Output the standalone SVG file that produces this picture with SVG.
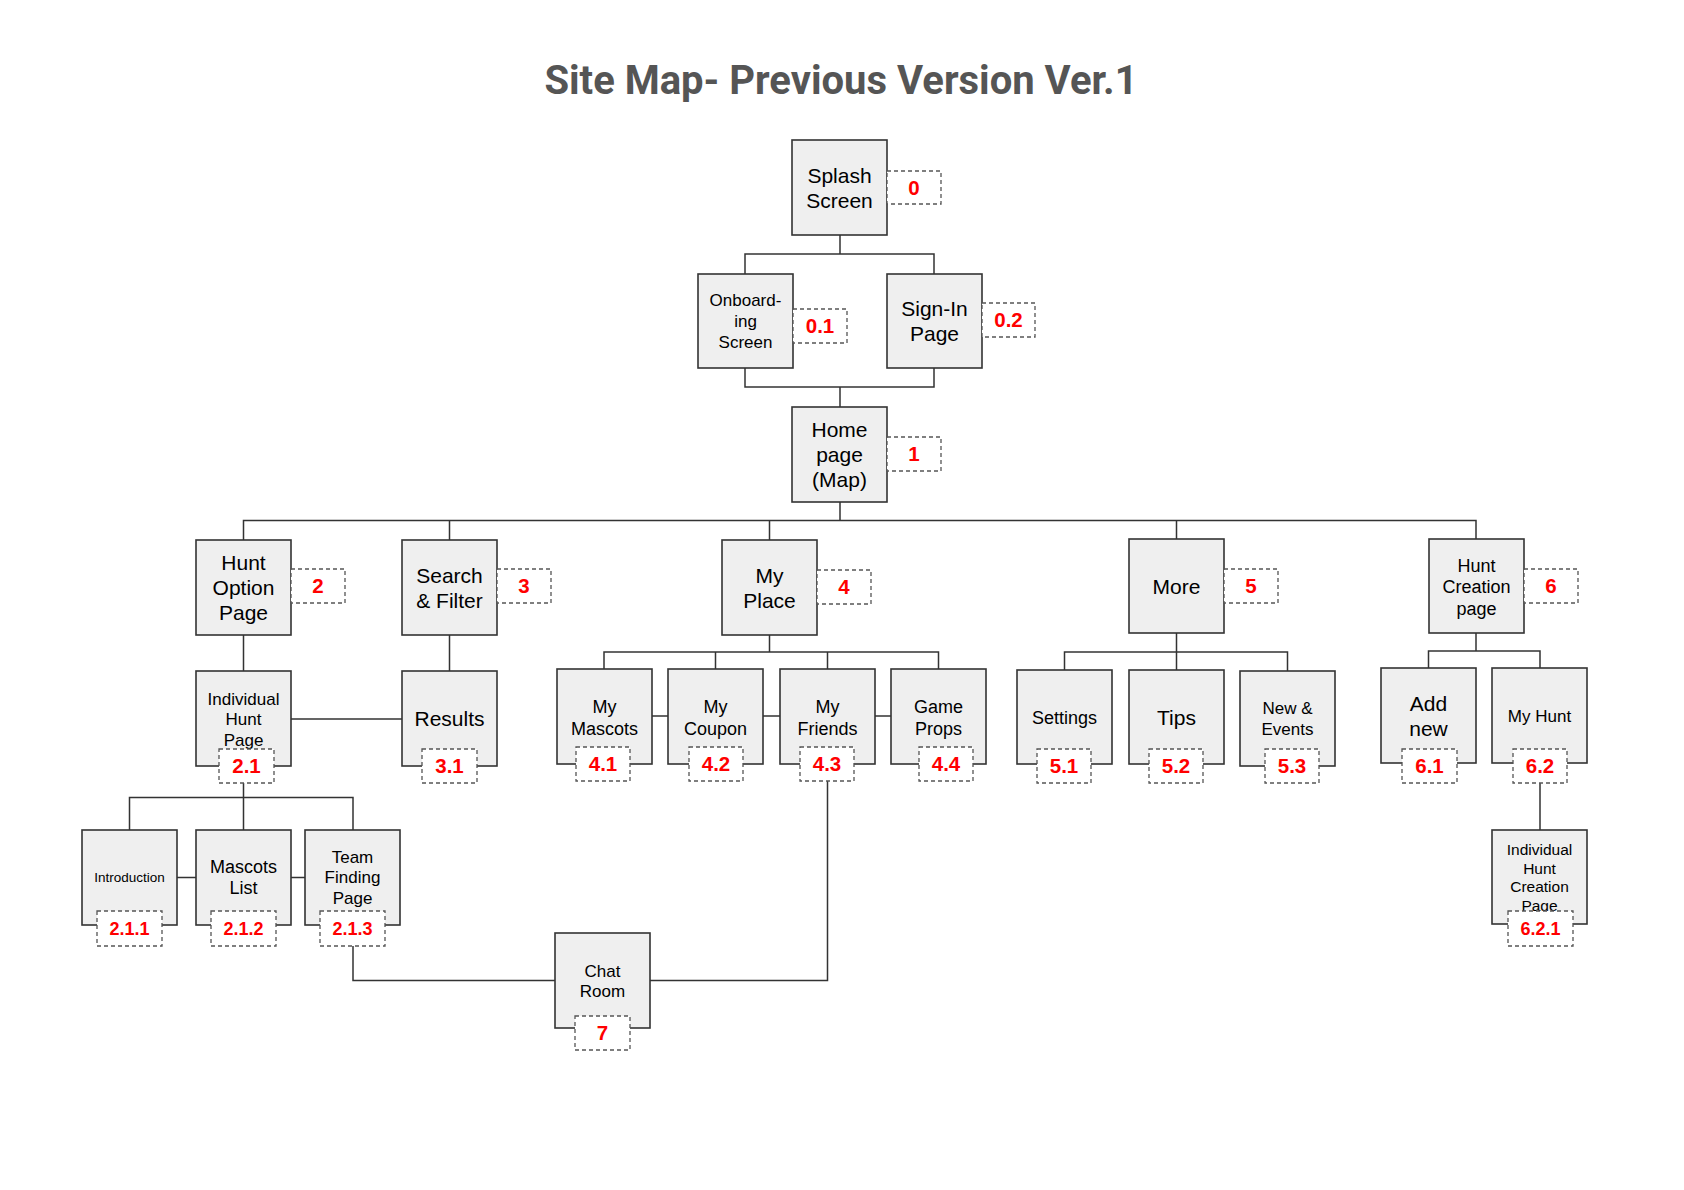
<svg xmlns="http://www.w3.org/2000/svg" width="1684" height="1190" viewBox="0 0 1684 1190">
<style>
.n{fill:#efefef;stroke:#333;stroke-width:1.6}
.l{fill:#fff;stroke:#555;stroke-width:1.3;stroke-dasharray:4 3}
.t{font-family:"Liberation Sans",Arial,sans-serif;fill:#000;text-anchor:middle}
.num{font-family:"Liberation Sans",Arial,sans-serif;font-weight:bold;fill:#ff0000;font-size:20.5px;text-anchor:middle}
.s{font-size:18px}
.c{fill:none;stroke:#333;stroke-width:1.5}
.title{font-family:Roboto,"Liberation Sans",sans-serif;font-weight:bold;font-size:40px;fill:#555;text-anchor:middle}
</style>
<rect width="1684" height="1190" fill="#fff"/>
<text class="title" x="841" y="93.5">Site Map- Previous Version Ver.1</text>

<g id="connectors">
<path class="c" d="M840,235V254M745,274V254H934V274"/>
<path class="c" d="M745,368V387H934V368M840,387V407"/>
<path class="c" d="M840,502V520.5M243.5,540V520.5H1476V539M449.5,520.5V540M769.5,520.5V540M1176.5,520.5V539"/>
<path class="c" d="M243.5,635V671M449.5,635V671M291,719H402"/>
<path class="c" d="M243.5,783V830M129.5,830V797.5H353V830M177,877.5H196M291,877.5H305"/>
<path class="c" d="M769.5,635V652M604,669V652H938.5V669M715.5,652V669M827.5,652V669M651.5,716H668M763,716H780M874.5,716H891"/>
<path class="c" d="M1176.5,633V652M1064.5,670V652H1287.5V671M1176.5,652V670"/>
<path class="c" d="M1476,633V651M1428.5,668V651H1540V668M1540,783V830"/>
<path class="c" d="M353,946V980.5H555M650,980.5H827.5V781"/>
</g>

<g id="n0"><rect class="n" x="792" y="140" width="95" height="95"/><text class="t" font-size="21"><tspan x="839.5" y="182.5">Splash</tspan><tspan x="839.5" y="207.5">Screen</tspan></text><rect class="l" x="887" y="171" width="54" height="33"/><text class="num" x="914" y="194.5">0</text></g>

<g id="n01"><rect class="n" x="698" y="274" width="95" height="94"/><text class="t" font-size="17"><tspan x="745.5" y="306">Onboard-</tspan><tspan x="745.5" y="327">ing</tspan><tspan x="745.5" y="347.5">Screen</tspan></text><rect class="l" x="793" y="309" width="54" height="34"/><text class="num" x="820" y="333">0.1</text></g>

<g id="n02"><rect class="n" x="887" y="274" width="95" height="94"/><text class="t" font-size="21"><tspan x="934.5" y="316">Sign-In</tspan><tspan x="934.5" y="341">Page</tspan></text><rect class="l" x="982" y="303" width="53" height="34"/><text class="num" x="1008.5" y="327">0.2</text></g>

<g id="n1"><rect class="n" x="792" y="407" width="95" height="95"/><text class="t" font-size="21"><tspan x="839.5" y="437">Home</tspan><tspan x="839.5" y="462">page</tspan><tspan x="839.5" y="487">(Map)</tspan></text><rect class="l" x="887" y="437" width="54" height="34"/><text class="num" x="914" y="461">1</text></g>

<g id="n2"><rect class="n" x="196" y="540" width="95" height="95"/><text class="t" font-size="21"><tspan x="243.5" y="570">Hunt</tspan><tspan x="243.5" y="595">Option</tspan><tspan x="243.5" y="620">Page</tspan></text><rect class="l" x="291" y="569" width="54" height="34"/><text class="num" x="318" y="593">2</text></g>

<g id="n3"><rect class="n" x="402" y="540" width="95" height="95"/><text class="t" font-size="21"><tspan x="449.5" y="583">Search</tspan><tspan x="449.5" y="608">&amp; Filter</tspan></text><rect class="l" x="497" y="569" width="54" height="34"/><text class="num" x="524" y="593">3</text></g>

<g id="n4"><rect class="n" x="722" y="540" width="95" height="95"/><text class="t" font-size="21"><tspan x="769.5" y="583">My</tspan><tspan x="769.5" y="608">Place</tspan></text><rect class="l" x="817" y="570" width="54" height="34"/><text class="num" x="844" y="594">4</text></g>

<g id="n5"><rect class="n" x="1129" y="539" width="95" height="94"/><text class="t" font-size="21" x="1176.5" y="594">More</text><rect class="l" x="1224" y="569" width="54" height="34"/><text class="num" x="1251" y="593">5</text></g>

<g id="n6"><rect class="n" x="1429" y="539" width="95" height="94"/><text class="t" font-size="18"><tspan x="1476.5" y="571.5">Hunt</tspan><tspan x="1476.5" y="593">Creation</tspan><tspan x="1476.5" y="614.5">page</tspan></text><rect class="l" x="1524" y="569" width="54" height="34"/><text class="num" x="1551" y="593">6</text></g>

<g id="n21"><rect class="n" x="196" y="671" width="95" height="95"/><text class="t" font-size="17"><tspan x="243.5" y="704.5">Individual</tspan><tspan x="243.5" y="725">Hunt</tspan><tspan x="243.5" y="745.5">Page</tspan></text><rect class="l" x="219" y="749" width="55" height="34"/><text class="num" x="246.5" y="773">2.1</text></g>

<g id="n31"><rect class="n" x="402" y="671" width="95" height="95"/><text class="t" font-size="21" x="449.5" y="726">Results</text><rect class="l" x="422" y="749" width="55" height="34"/><text class="num" x="449.5" y="773">3.1</text></g>

<g id="n41"><rect class="n" x="557" y="669" width="95" height="95"/><text class="t" font-size="18"><tspan x="604.5" y="713">My</tspan><tspan x="604.5" y="735">Mascots</tspan></text><rect class="l" x="576" y="747" width="54" height="34"/><text class="num" x="603" y="771">4.1</text></g>

<g id="n42"><rect class="n" x="668" y="669" width="95" height="95"/><text class="t" font-size="18"><tspan x="715.5" y="713">My</tspan><tspan x="715.5" y="735">Coupon</tspan></text><rect class="l" x="689" y="747" width="54" height="34"/><text class="num" x="716" y="771">4.2</text></g>

<g id="n43"><rect class="n" x="780" y="669" width="95" height="95"/><text class="t" font-size="18"><tspan x="827.5" y="713">My</tspan><tspan x="827.5" y="735">Friends</tspan></text><rect class="l" x="800" y="747" width="54" height="34"/><text class="num" x="827" y="771">4.3</text></g>

<g id="n44"><rect class="n" x="891" y="669" width="95" height="95"/><text class="t" font-size="18"><tspan x="938.5" y="713">Game</tspan><tspan x="938.5" y="735">Props</tspan></text><rect class="l" x="919" y="747" width="54" height="34"/><text class="num" x="946" y="771">4.4</text></g>

<g id="n51"><rect class="n" x="1017" y="670" width="95" height="94"/><text class="t" font-size="18" x="1064.5" y="724">Settings</text><rect class="l" x="1037" y="749" width="54" height="34"/><text class="num" x="1064" y="773">5.1</text></g>

<g id="n52"><rect class="n" x="1129" y="670" width="95" height="94"/><text class="t" font-size="21" x="1176.5" y="724.5">Tips</text><rect class="l" x="1149" y="749" width="54" height="34"/><text class="num" x="1176" y="773">5.2</text></g>

<g id="n53"><rect class="n" x="1240" y="671" width="95" height="95"/><text class="t" font-size="17"><tspan x="1287.5" y="714">New &amp;</tspan><tspan x="1287.5" y="734.5">Events</tspan></text><rect class="l" x="1265" y="749" width="54" height="34"/><text class="num" x="1292" y="773">5.3</text></g>

<g id="n61"><rect class="n" x="1381" y="668" width="95" height="95"/><text class="t" font-size="21"><tspan x="1428.5" y="710.5">Add</tspan><tspan x="1428.5" y="735.5">new</tspan></text><rect class="l" x="1402" y="749" width="55" height="34"/><text class="num" x="1429.5" y="773">6.1</text></g>

<g id="n62"><rect class="n" x="1492" y="668" width="95" height="95"/><text class="t" font-size="17" x="1539.5" y="721.5">My Hunt</text><rect class="l" x="1513" y="749" width="54" height="34"/><text class="num" x="1540" y="773">6.2</text></g>

<g id="n211"><rect class="n" x="82" y="830" width="95" height="95"/><text class="t" font-size="13.5" x="129.5" y="882">Introduction</text><rect class="l" x="97" y="911" width="65" height="35"/><text class="num s" x="129.5" y="935">2.1.1</text></g>

<g id="n212"><rect class="n" x="196" y="830" width="95" height="95"/><text class="t" font-size="18"><tspan x="243.5" y="872.5">Mascots</tspan><tspan x="243.5" y="894">List</tspan></text><rect class="l" x="211" y="911" width="65" height="35"/><text class="num s" x="243.5" y="935">2.1.2</text></g>

<g id="n213"><rect class="n" x="305" y="830" width="95" height="95"/><text class="t" font-size="17"><tspan x="352.5" y="862.5">Team</tspan><tspan x="352.5" y="883">Finding</tspan><tspan x="352.5" y="903.5">Page</tspan></text><rect class="l" x="320" y="911" width="65" height="35"/><text class="num s" x="352.5" y="935">2.1.3</text></g>

<g id="n621"><rect class="n" x="1492" y="830" width="95" height="94"/><text class="t" font-size="15.5"><tspan x="1539.5" y="855">Individual</tspan><tspan x="1539.5" y="873.5">Hunt</tspan><tspan x="1539.5" y="892">Creation</tspan><tspan x="1539.5" y="910.5">Page</tspan></text><rect class="l" x="1508" y="911" width="65" height="35"/><text class="num s" x="1540.5" y="935">6.2.1</text></g>

<g id="n7"><rect class="n" x="555" y="933" width="95" height="95"/><text class="t" font-size="17"><tspan x="602.5" y="976.5">Chat</tspan><tspan x="602.5" y="997">Room</tspan></text><rect class="l" x="575" y="1016" width="55" height="34"/><text class="num" x="602.5" y="1040">7</text></g>
</svg>
